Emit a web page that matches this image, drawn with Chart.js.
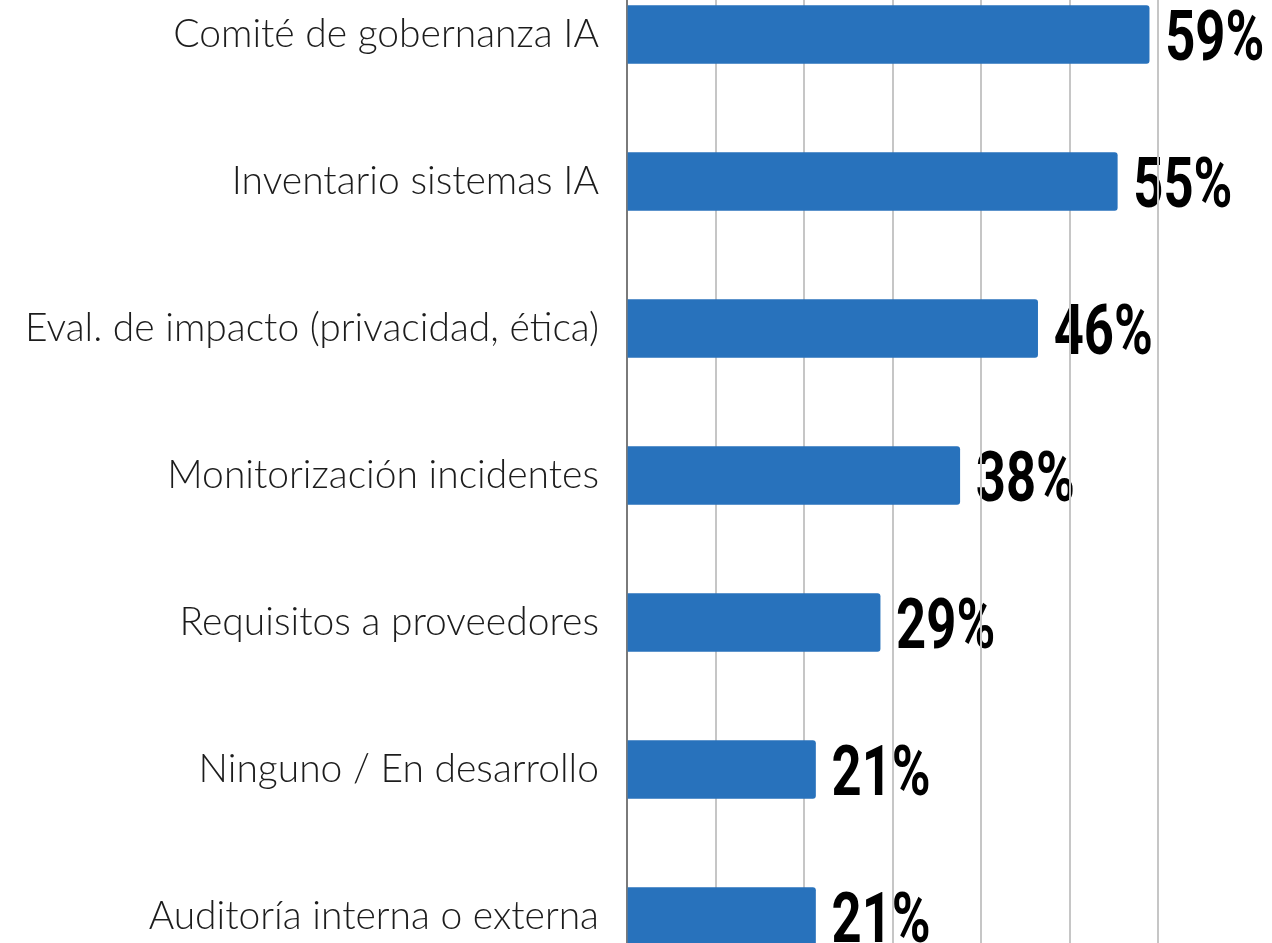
<!DOCTYPE html>
<html>
<head>
<meta charset="utf-8">
<script src="https://cdn.jsdelivr.net/npm/chart.js@4"></script>
<style>
  html, body { margin: 0; padding: 0; background: #fff; overflow: hidden; }
  #wrap { position: absolute; left: 0; top: -39px; width: 1272px; height: 1029px; }
</style>
</head>
<body>
<div id="wrap"><canvas id="govchart"></canvas></div>
<script>
// data
const categories = [
  'Comité de gobernanza IA',
  'Inventario sistemas IA',
  'Eval. de impacto (privacidad, ética)',
  'Monitorización incidentes',
  'Requisitos a proveedores',
  'Ninguno / En desarrollo',
  'Auditoría interna o externa'
];
const shares = [59, 55.4, 46.4, 37.6, 28.6, 21.3, 21.3];
const gridTicks = [0, 10, 20, 30, 40, 50, 60];

// value labels beside each bar, drawn early so gridlines sit on top like the original
const valueLabels = {
  id: 'valueLabels',
  beforeDraw(chart) {
    const ctx = chart.ctx;
    const meta = chart.getDatasetMeta(0);
    ctx.save();
    ctx.fillStyle = '#000';
    ctx.font = 'bold 71px Roboto';
    ctx.textBaseline = 'alphabetic';
    meta.data.forEach((bar, i) => {
      let txt = Math.round(shares[i]) + '%';
      ctx.save();
      ctx.translate(bar.x + 16, bar.y + 25);
      ctx.scale(0.74, 1);
      ctx.fillText(txt, 0, 0);
      ctx.restore();
    });
    ctx.restore();
  }
};

const ctx = document.getElementById('govchart').getContext('2d');
const myChart = new Chart(ctx, {
  type: 'bar',
  data: {
    labels: categories,
    datasets: [{
      data: shares,
      backgroundColor: '#2872bc',
      borderRadius: 3,
      borderSkipped: 'start',
      barThickness: 58
    }]
  },
  options: {
    indexAxis: 'y',
    responsive: true,
    maintainAspectRatio: false,
    animation: false,
    layout: { padding: { left: 0, right: 114, top: 0, bottom: 0 } },
    plugins: {
      legend: { display: false },
      tooltip: { enabled: false }
    },
    scales: {
      x: {
        min: 0,
        max: 60,
        afterBuildTicks: (scale) => { scale.ticks = gridTicks.map(v => ({ value: v })); },
        afterFit: (scale) => { scale.height = 0; },
        ticks: { display: false },
        border: { display: false },
        grid: {
          drawTicks: false,
          lineWidth: 2,
          color: (c) => (c.tick && c.tick.value === 0 ? '#7a7a7a' : '#c6c6c6')
        }
      },
      y: {
        afterFit: (scale) => {
          scale.width = 627;
          scale.paddingTop = 0;
          scale.paddingBottom = 0;
        },
        border: { display: false },
        grid: { display: false, drawTicks: false },
        ticks: {
          color: '#1c1c1c',
          padding: 28,
          font: { family: 'Lato', size: 39, weight: 300 }
        }
      }
    }
  },
  plugins: [valueLabels]
});
</script>
</body>
</html>
